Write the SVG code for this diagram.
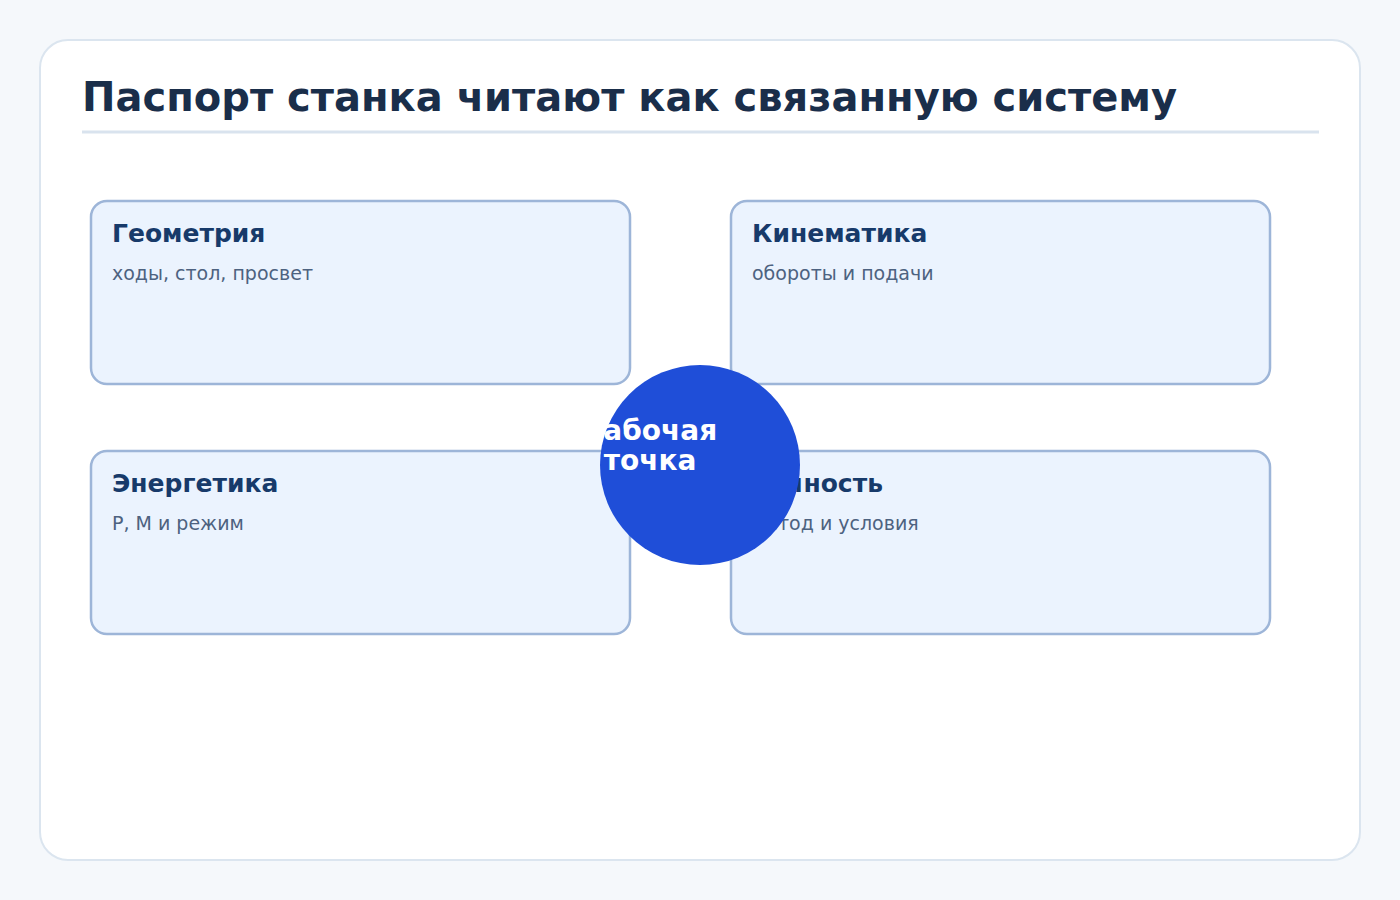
<svg xmlns="http://www.w3.org/2000/svg" width="1400" height="900" viewBox="0 0 1400 900">
<style>
.card{fill:#ebf3fe;stroke:#9db5d8;stroke-width:2.5}
.ct{font-family:"DejaVu Sans",sans-serif;font-weight:bold;font-size:25px;fill:#173a6a}
.cs{font-family:"DejaVu Sans",sans-serif;font-size:19px;fill:#4d6280}
.hub{font-family:"DejaVu Sans",sans-serif;font-weight:bold;font-size:28px;fill:#ffffff}
</style>
<rect width="1400" height="900" fill="#f5f8fb"/>
<rect x="40" y="40" width="1320" height="820" rx="28" fill="#ffffff" stroke="#dbe5ef" stroke-width="2"/>
<text x="82" y="111" font-family="DejaVu Sans, sans-serif" font-weight="bold" font-size="40" fill="#1a2e4a">Паспорт станка читают как связанную систему</text>
<line x1="82" y1="132" x2="1319" y2="132" stroke="#d9e3ee" stroke-width="3"/>
<g id="connectors"></g>
<g id="geometry">
<rect class="card" x="91" y="201" width="539" height="183" rx="16"/>
<text class="ct" x="112" y="242">Геометрия</text>
<text class="cs" x="112" y="280">ходы, стол, просвет</text>
</g>
<g id="kinematics">
<rect class="card" x="731" y="201" width="539" height="183" rx="16"/>
<text class="ct" x="752" y="242">Кинематика</text>
<text class="cs" x="752" y="280">обороты и подачи</text>
</g>
<g id="energy">
<rect class="card" x="91" y="451" width="539" height="183" rx="16"/>
<text class="ct" x="112" y="492">Энергетика</text>
<text class="cs" x="112" y="530">P, M и режим</text>
</g>
<g id="accuracy">
<rect class="card" x="731" y="451" width="539" height="183" rx="16"/>
<text class="ct" x="752" y="492">Точность</text>
<text class="cs" x="752" y="530">метод и условия</text>
</g>
<g id="center">
<circle cx="700" cy="465" r="100" fill="#1f4ed8"/>
<text class="hub" x="650" y="440" text-anchor="middle">Рабочая</text>
<text class="hub" x="650" y="470" text-anchor="middle">точка</text>
</g>
</svg>
